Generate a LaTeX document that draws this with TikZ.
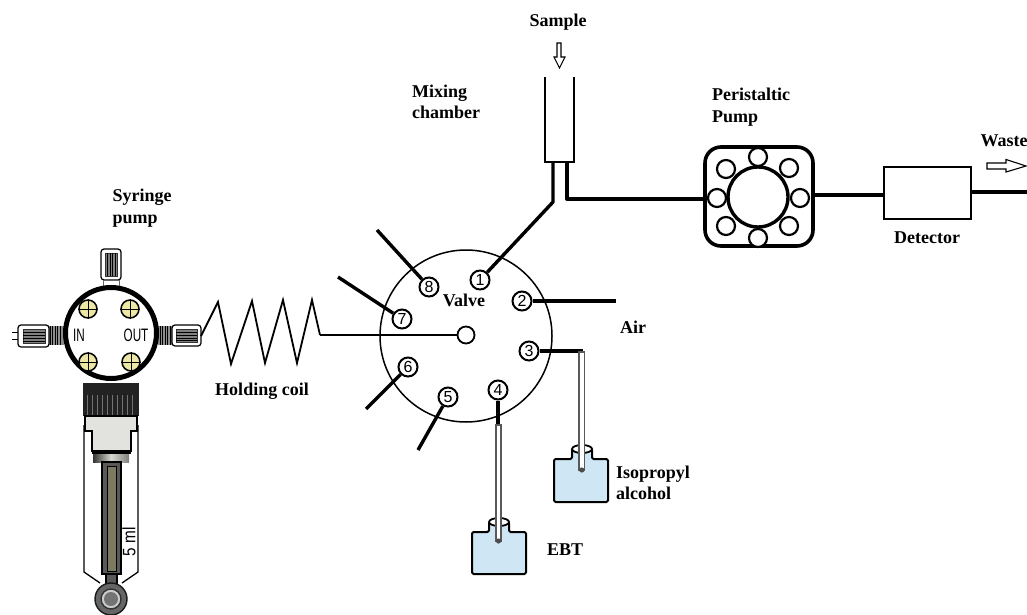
\documentclass[tikz,border=0pt]{standalone}
\usepackage{fontspec}
\setmainfont{Liberation Serif}
\newfontfamily\numfont{Liberation Sans}
\usetikzlibrary{calc}
\definecolor{bottleblue}{HTML}{CFE6F4}
\definecolor{screwyellow}{HTML}{EDE7A6}
\definecolor{knobdark}{HTML}{222222}
\definecolor{blockgrey}{HTML}{E2E2DE}
\definecolor{olive}{HTML}{7C7A60}
\tikzset{
  lab/.style={font=\fontsize{18}{21.5}\selectfont\bfseries,inner sep=0pt,align=left},
  thick line/.style={line width=3.4pt},
  med line/.style={line width=2.4pt},
  portn/.style={circle,draw,line width=2pt,minimum size=19pt,inner sep=0pt,font=\numfont\fontsize{16}{16}\selectfont},
  roller/.style={circle,draw,fill=white,line width=2.2pt,minimum size=18pt,inner sep=0pt},
  screw/.style={circle,draw,fill=screwyellow,line width=1.5pt,minimum size=18pt,inner sep=0pt},
  bottle/.style={draw,fill=bottleblue,line width=2pt,line join=round,rounded corners=1.5pt},
  fitting/.style={draw,fill=white,line width=1.2pt,rounded corners=3pt},
  tube/.style={draw=black!65,fill=white,line width=1.2pt},
  openarrow/.style={draw,fill=white,line width=1.1pt,line join=miter},
  narrowtext/.style={inner sep=0pt,font=\numfont\fontsize{18}{18}\selectfont},
}
\begin{document}
\begin{tikzpicture}[x=1pt,y=-1pt]
\useasboundingbox (0,0) rectangle (1027,615);
% --- syringe body
\draw[line width=1.3pt] (84,425) -- (84,572) -- (100,583) (138,425) -- (138,572) -- (122,583);
\fill[knobdark] (83,383) rectangle (139,416);
\foreach \x in {87,92,...,135}{\draw[black!55,line width=.3pt] (\x,384) -- (\x,415);}
\draw[fill=blockgrey,line width=1.2pt] (85,416) -- (137,416) -- (137,431) -- (131,431) -- (131,451) -- (92,451) -- (92,431) -- (85,431) -- cycle;
\fill[black] (92,451) rectangle (131,454);
\shade[left color=black!80,right color=black!50,middle color=white!70!olive] (93,454) rectangle (129,462);
\draw[fill=black!65,line width=1.2pt] (106,572) rectangle (117,590);
\draw[fill=black!65,line width=1.2pt] (102,462) rectangle (121,574);
\draw[fill=olive,line width=1pt] (107,466) rectangle (116,571);
\node[circle,draw=black!90,fill=black!60,line width=1.4pt,minimum size=32pt,inner sep=0pt] (ringa) at (111,599) {};
\node[circle,draw=black!80,fill=black!20,line width=1.4pt,minimum size=20pt,inner sep=0pt] (ringb) at (111,599) {};
\node[circle,fill=black!55,minimum size=14pt,inner sep=0pt] (ringc) at (111,599) {};
\node[rotate=90,narrowtext] (vol) at (129,542) {\scalebox{.85}[1]{5 ml}};
% --- fittings
\fill[black!45] (49,326) rectangle (64,345);
\foreach \x in {50,52.5,...,62}{\draw[black,line width=1pt] (\x,326) -- (\x,345);}
\fill[black!45] (158,326) rectangle (172,345);
\foreach \x in {160,162.5,...,172}{\draw[black,line width=1pt] (\x,326) -- (\x,345);}
\draw[line width=1pt] (12,332) -- (19,332) (12,339) -- (19,339);
\draw[fitting] (18,325) rectangle (49,347);
\draw[fill=black!50,draw=black!80,line width=.8pt] (23,329) rectangle (45,343);
\foreach \y in {332,335,338,341}{\draw[black,line width=.8pt] (23,\y) -- (45,\y);}
\draw[fitting] (172,325) rectangle (201,346);
\draw[fill=black!50,draw=black!80,line width=.8pt] (176,329) rectangle (197,342);
\foreach \y in {332,335,338,340}{\draw[black,line width=.8pt] (176,\y) -- (197,\y);}
\draw[fitting] (101,249) rectangle (121,280);
\draw[fill=black!50,draw=black!80,line width=.8pt] (105,253) rectangle (117,276);
\foreach \x in {107.5,110,112.5,115}{\draw[black,line width=.8pt] (\x,253) -- (\x,276);}
\draw[black!60,line width=1pt,fill=white] (103,280) rectangle (119,287);
% --- pump head
\node[circle,draw,fill=white,line width=5pt,minimum size=91pt,inner sep=0pt] (head) at (111,333) {};
\fill[knobdark] (83,383) rectangle (139,395);
\foreach \n/\x/\y in {sa/88/309,sb/130/309,sc/88/362,sd/131/362}{
  \node[screw] (\n) at (\x,\y) {};
  \draw[line width=.7pt] (\n.west) -- (\n.east) (\n.north) -- (\n.south);
}
\node[narrowtext] (in) at (79,335) {\scalebox{.65}[1]{IN}};
\node[narrowtext] (out) at (136,335) {\scalebox{.65}[1]{OUT}};
\node[lab] (syr) at (142,208) {Syringe\\pump};
% --- valve
\node[circle,draw,line width=1.5pt,minimum size=172pt,inner sep=0pt] (valve) at (466,336) {};
\node[circle,draw,line width=1.8pt,minimum size=17pt,inner sep=0pt,fill=white] (hub) at (466,335) {};
\foreach \n/\x/\y in {1/480/280,2/522/301,3/529/351,4/498/390,5/448/397,6/408/367,7/402/319,8/429/287}{
  \node[portn] (p\n) at (\x,\y) {\n};
}
\node[lab] (valvelab) at (464,300) {Valve};
% --- coil
\coordinate (cs) at (201,336);
\coordinate (ce) at (320,335);
\draw[line width=1.8pt,line join=miter] (cs) -- (218,302) -- (231,364) -- (252,301) -- (265,363) -- (283,300) -- (297,363) -- (312,300) -- (ce);
\draw[line width=2.2pt] (ce) -- (hub);
\node[lab] (coil) at (262,391) {Holding coil};
% --- port lines
\coordinate (j) at (553,202);
\coordinate (e2) at (616,301);
\coordinate (e3) at (583,351);
\coordinate (e4) at (498,425);
\coordinate (e5) at (418,450);
\coordinate (e6) at (366,409);
\coordinate (e7) at (338,277);
\coordinate (e8) at (377,230);
\draw[thick line,line join=round] (p1) -- (j) -- (553,162);
\draw[thick line] (p2) -- (e2);
\draw[thick line] (p3) -- (e3);
\draw[thick line] (p4) -- (e4);
\draw[thick line] (p5) -- (e5);
\draw[thick line] (p6) -- (e6);
\draw[thick line] (p7) -- (e7);
\draw[thick line] (p8) -- (e8);
\node[lab] (air) at (633,327) {Air};
% --- bottles
\draw[bottle] (554,459) -- (572,459) -- (572,449) -- (592,449) -- (592,459) -- (608,459) -- (608,502) -- (554,502) -- cycle;
\draw[line width=1.8pt,fill=white] (582,449) ellipse (10pt and 4pt);
\draw[tube] (579,352) rectangle (584.5,470);
\fill[black!70] (581.8,470) circle (2.6pt);
\draw[bottle] (472,532) -- (489,532) -- (489,522) -- (509,522) -- (509,532) -- (526,532) -- (526,574) -- (472,574) -- cycle;
\draw[line width=1.8pt,fill=white] (499,522) ellipse (10pt and 4pt);
\draw[tube] (496,425) rectangle (501,541);
\fill[black!70] (498.5,541) circle (2.6pt);
\node[lab] (iso) at (653,483) {Isopropyl\\alcohol};
\node[lab] (ebt) at (565,550) {EBT};
% --- chamber
\coordinate (ca) at (545,77);
\coordinate (cb) at (545,162);
\coordinate (cc) at (574,162);
\coordinate (cd) at (574,77);
\draw[med line,line join=miter] (ca) -- (cb) -- (cc) -- (cd);
\node[lab] (mix) at (446,102) {Mixing\\chamber};
\node[lab] (sample) at (558,22) {Sample};
\draw[openarrow] (557,43) -- (561,43) -- (561,57) -- (565,57) -- (559.5,68) -- (554,57) -- (557,57) -- cycle;
% --- peristaltic pump
\coordinate (st) at (567,162);
\coordinate (sb) at (567,199);
\node[draw,line width=3.6pt,rounded corners=16pt,minimum width=108pt,minimum height=99pt,inner sep=0pt] (pp) at (759,196.5) {};
\draw[thick line,line join=round] (st) -- (sb) -- (pp.west |- sb);
\node[circle,draw,fill=white,line width=3.4pt,minimum size=60pt,inner sep=0pt] (rotor) at (758,197) {};
\foreach \n/\x/\y in {a/758/157,b/789/168,c/800/198,d/789/226,e/758/238,f/726/226,g/717/198,h/726/169}{
  \node[roller] (r\n) at (\x,\y) {};
}
\node[lab] (plab) at (751,107) {Peristaltic\\Pump};
% --- detector
\node[draw,line width=2pt,minimum width=87pt,minimum height=52pt,inner sep=0pt] (det) at (927.5,193) {};
\coordinate (wend) at (1027,192);
\coordinate (pr) at (813,195);
\draw[thick line] (pr) -- (pr -| det.west);
\draw[thick line] (det.east |- wend) -- (wend);
\node[lab] (detlab) at (927,238) {Detector};
\node[lab] (waste) at (1004,141) {Waste};
\draw[openarrow] (987,163) -- (1006,163) -- (1006,159.5) -- (1026,166) -- (1006,172) -- (1006,169) -- (987,169) -- cycle;
\end{tikzpicture}
\end{document}
